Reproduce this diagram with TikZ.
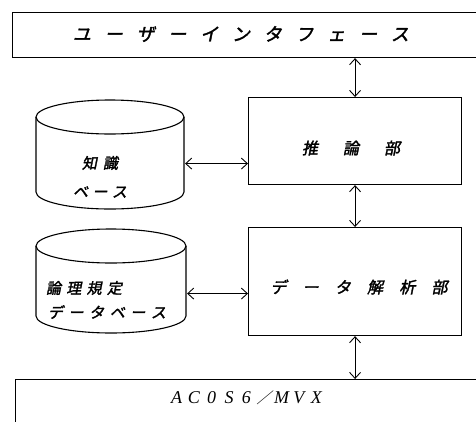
\documentclass[tikz,border=0pt]{standalone}
\usepackage{fontspec}
\usetikzlibrary{arrows.meta}
\newfontfamily\jp[FakeSlant=0.2,FakeBold=2]{Noto Sans CJK JP}
\newfontfamily\jpup[FakeSlant=0.2]{Noto Sans CJK JP}
\newfontfamily\lat{Liberation Serif}
\makeatletter
\newcommand\spreadtext[2]{\@tfor\tmpch:=#2\do{\makebox[#1]{\tmpch}}}
\makeatother
\begin{document}
\begin{tikzpicture}[x=1pt,y=1pt, line width=1.1pt,
  box/.style={draw, rectangle, inner sep=0pt, anchor=north west},
  hid/.style={rectangle, inner sep=0pt, anchor=north west},
  lbl/.style={inner sep=0pt, font=\jp\fontsize{16}{16}\selectfont},
  slbl/.style={inner sep=0pt, font=\jp\fontsize{15}{15}\selectfont},
  biarrow/.style={{Straight Barb[length=6pt,width=11pt]}-{Straight Barb[length=6pt,width=11pt]}, line width=0.9pt}]
\useasboundingbox (0,0) rectangle (476,-421);
\fill[white] (0,0) rectangle (476,-421);
\begin{scope}
\clip (0,0) rectangle (476,-421);
% boxes
\node[box, minimum width=475pt, minimum height=45pt] (ui) at (12,-12) {};
\node[box, minimum width=213pt, minimum height=87pt] (inf) at (248,-97) {};
\node[box, minimum width=213pt, minimum height=108pt] (dat) at (248,-227) {};
\node[box, minimum width=475pt, minimum height=60pt] (acos) at (15,-379) {};
% cylinders
\draw (110,-117) ellipse[x radius=74, y radius=17];
\draw (36,-117) -- (36,-192) arc[start angle=180, end angle=360, x radius=74, y radius=17] -- (184,-117);
\node[hid, minimum width=148pt, minimum height=92pt] (kb) at (36,-117) {};
\draw (111,-246) ellipse[x radius=75, y radius=17];
\draw (36,-246) -- (36,-316) arc[start angle=180, end angle=360, x radius=75, y radius=17] -- (186,-246);
\node[hid, minimum width=150pt, minimum height=78pt] (lr) at (36,-254) {};
% connectors
\draw[biarrow] (ui.south -| inf.north) -- (inf.north);
\draw[biarrow] (inf.south) -- (dat.north);
\draw[biarrow] (dat.south) -- (dat.south |- acos.north);
\draw[biarrow] (kb.east) -- (kb.east -| inf.west);
\draw[biarrow] (lr.east) -- (lr.east -| dat.west);
% texts
\node[lbl, font=\jp\fontsize{18}{18}\selectfont] (uit) at (241,-34) {\spreadtext{31.8pt}{ユーザーインタフェース}};
\node[lbl] (inft) at (351,-148) {\spreadtext{41pt}{推論部}};
\node[lbl] (datt) at (359,-287) {\spreadtext{32.2pt}{データ解析部}};
\node[slbl] (kbt1) at (100,-163) {\spreadtext{21pt}{知識}};
\node[slbl] (kbt2) at (100,-192) {\spreadtext{19.5pt}{ベース}};
\node[slbl] (lrt1) at (84,-288) {\spreadtext{20.3pt}{論理規定}};
\node[slbl] (lrt2) at (107,-312) {\spreadtext{20.6pt}{データベース}};
\node[inner sep=0pt] (acost) at (246.5,-398) {\lat\itshape\fontsize{18}{18}\selectfont\spreadtext{17.5pt}{AC0S6}\makebox[17.5pt]{\jpup\fontsize{15}{15}\selectfont ／}\spreadtext{17.5pt}{MVX}};
\end{scope}
\end{tikzpicture}
\end{document}
